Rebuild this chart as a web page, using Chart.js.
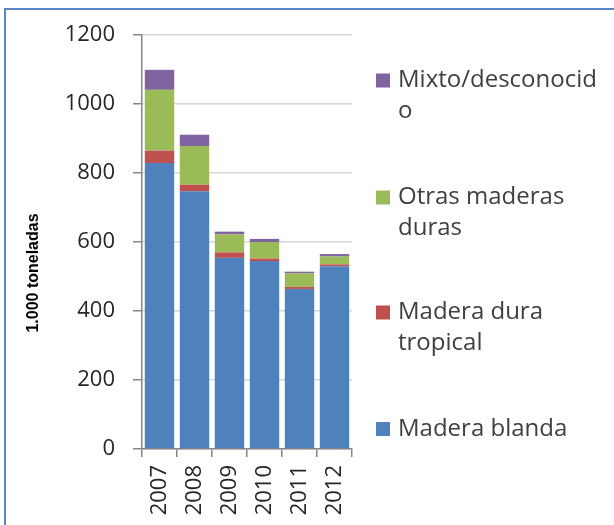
<!DOCTYPE html>
<html>
<head>
<meta charset="utf-8">
<script src="https://cdn.jsdelivr.net/npm/chart.js@4"></script>
<style>
    html, body { margin: 0; padding: 0; background: #fff; }
    #wrap { position: relative; width: 614px; height: 525px; overflow: hidden; }
    #frame {
        position: absolute; left: 4px; top: 8px; width: 700px; height: 600px;
        border-left: 2px solid #5b87c5; border-top: 2px solid #5b87c5;
    }
    canvas { position: absolute; left: 0; top: 0; }
</style>
</head>
<body>
<div id="wrap">
    <div id="frame"></div>
    <canvas id="wood-chart" width="614" height="525"></canvas>
</div>
<script>
const years = ["2007", "2008", "2009", "2010", "2011", "2012"];
const maderaBlanda = [829, 747, 554, 545, 464, 530];
const maderaDuraTropical = [36, 19, 16, 7, 6, 5];
const otrasMaderasDuras = [176, 112, 52, 48, 39, 23];
const mixtoDesconocido = [58, 33, 8, 9, 5, 7];
const yTicks = [0, 200, 400, 600, 800, 1000, 1200];

const FONT = "'Open Sans', 'DejaVu Sans', sans-serif";

// legend drawn by hand so the labels can wrap like in the original
const legendPlugin = {
    id: "sideLegend",
    afterDraw(chart) {
        const ctx = chart.ctx;
        const items = [
            { ds: 3, lines: ["Mixto/desconocid", "o"], y: 80.5 },
            { ds: 2, lines: ["Otras maderas", "duras"], y: 197.5 },
            { ds: 1, lines: ["Madera dura", "tropical"], y: 312.5 },
            { ds: 0, lines: ["Madera blanda"], y: 429 },
        ];
        ctx.save();
        ctx.font = "24px " + FONT;
        ctx.textBaseline = "middle";
        ctx.textAlign = "left";
        items.forEach((it) => {
            ctx.fillStyle = chart.data.datasets[it.ds].backgroundColor;
            ctx.fillRect(376, it.y - 7, 14, 14);
            ctx.fillStyle = "#404040";
            it.lines.forEach((line, i) => {
                ctx.fillText(line, 398, it.y + i * 31);
            });
        });
        // y axis title
        ctx.translate(34, 273);
        ctx.rotate(-Math.PI / 2);
        ctx.textAlign = "center";
        ctx.font = "bold 16px 'Liberation Sans', sans-serif";
        ctx.fillStyle = "#000";
        ctx.fillText("1.000 toneladas", 0, 0);
        ctx.restore();
    },
};

const config = {
    type: "bar",
    data: {
        labels: years,
        datasets: [
            { label: "Madera blanda", data: maderaBlanda, backgroundColor: "#4f81bd" },
            { label: "Madera dura tropical", data: maderaDuraTropical, backgroundColor: "#c0504d" },
            { label: "Otras maderas duras", data: otrasMaderasDuras, backgroundColor: "#9bbb59" },
            { label: "Mixto/desconocido", data: mixtoDesconocido, backgroundColor: "#8064a2" },
        ],
    },
    options: {
        responsive: false,
        animation: false,
        barPercentage: 0.84,
        categoryPercentage: 1,
        layout: {
            padding: { top: 35, right: 262, bottom: 0, left: 0 },
        },
        scales: {
            x: {
                stacked: true,
                afterFit: (scale) => { scale.height = 76; },
                grid: {
                    display: true,
                    drawOnChartArea: false,
                    tickLength: 8,
                    color: "#868686",
                    lineWidth: 1.5,
                },
                border: { color: "#868686", width: 1.5 },
                ticks: {
                    minRotation: 90,
                    maxRotation: 90,
                    padding: 8,
                    color: "#262626",
                    font: { family: FONT, size: 22 },
                },
            },
            y: {
                stacked: true,
                min: 0,
                max: 1200,
                afterFit: (scale) => { scale.width = 142; },
                afterBuildTicks: (scale) => {
                    scale.ticks = yTicks.map((v) => ({ value: v }));
                },
                grid: {
                    color: "#d6d6d6",
                    lineWidth: 1.5,
                    tickLength: 9,
                    tickColor: "#868686",
                },
                border: { color: "#868686", width: 1.5 },
                ticks: {
                    padding: 18,
                    color: "#262626",
                    font: { family: FONT, size: 22 },
                    callback: (val) => String(val),
                },
            },
        },
        plugins: {
            legend: { display: false },
            tooltip: { enabled: false },
        },
    },
    plugins: [legendPlugin],
};

window.addEventListener("DOMContentLoaded", () => {
    new Chart(document.getElementById("wood-chart"), config);
});
</script>
</body>
</html>
